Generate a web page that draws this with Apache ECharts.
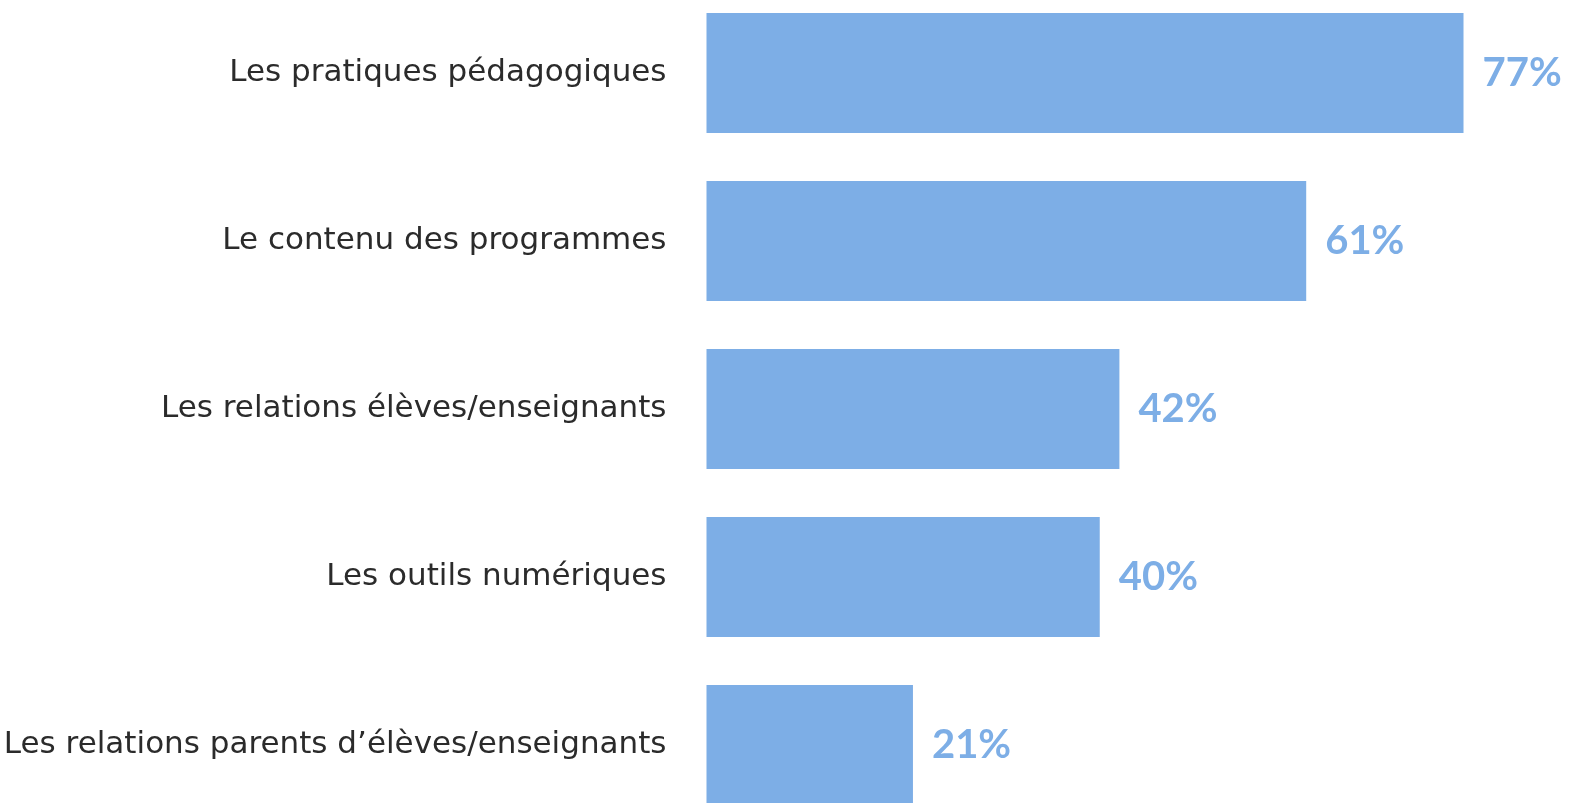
<!DOCTYPE html>
<html><head><meta charset="utf-8">
<script src="https://cdn.jsdelivr.net/npm/echarts@6/dist/echarts.min.js"></script>
<style>html,body{margin:0;padding:0;background:#fff}#c{width:1570px;height:803px}</style>
</head><body><div id="c"></div>
<script>
const categories = [
  "Les pratiques pédagogiques",
  "Le contenu des programmes",
  "Les relations élèves/enseignants",
  "Les outils numériques",
  "Les relations parents d\u2019élèves/enseignants"
];
const values = [77, 61, 42, 40, 21];

const chart = echarts.init(document.getElementById('c'), null, {renderer: 'canvas'});
chart.setOption({
  animation: false,
  grid: {left: 706.5, width: 786.5, top: -11, height: 840, containLabel: false, outerBoundsMode: 'none'},
  xAxis: {type: 'value', min: 0, max: 80, show: false},
  yAxis: {
    type: 'category', data: categories, inverse: true,
    axisLine: {show: false}, axisTick: {show: false},
    axisLabel: {margin: 40, color: '#2b2b2b', fontSize: 31, fontFamily: 'DejaVu Sans'}
  },
  series: [{
    type: 'bar', data: values, barWidth: 120,
    itemStyle: {color: '#7DAEE6'},
    label: {show: true, position: 'right', distance: 19, formatter: '{c}%',
      color: '#7DAEE6', fontSize: 40, fontWeight: 'bold', fontFamily: 'Lato'}
  }]
});
</script></body></html>
